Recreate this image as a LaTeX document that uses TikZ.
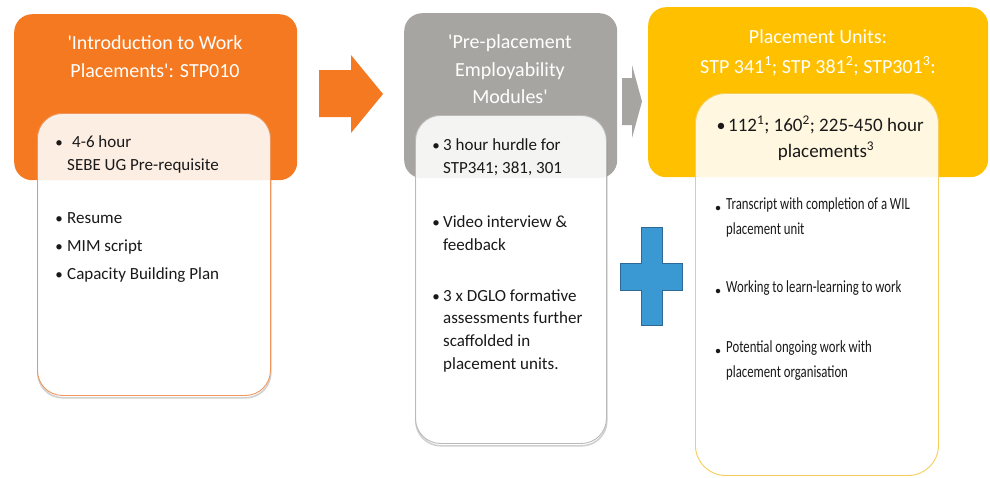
\documentclass[tikz,border=0pt]{standalone}
\usepackage{fontspec}
\setmainfont{Carlito}
\newfontfamily\carlplain{Carlito}
\definecolor{orng}{RGB}{244,121,32}
\definecolor{orngl}{RGB}{240,150,90}
\definecolor{gry}{RGB}{166,165,161}
\definecolor{gryl}{RGB}{185,185,185}
\definecolor{ylw}{RGB}{255,192,0}
\definecolor{ylwl}{RGB}{245,205,90}
\definecolor{blu}{RGB}{58,152,211}
\definecolor{blud}{RGB}{46,105,150}
\definecolor{txt}{RGB}{25,25,25}
\definecolor{shd}{RGB}{150,150,150}
\begin{document}
\begin{tikzpicture}[x=1pt,y=-1pt,
  outerbox/.style={rounded corners=18pt, inner sep=0pt, draw=none, anchor=north west},
  innerbox/.style={rounded corners=25pt, inner sep=0pt, fill=white, fill opacity=0.88, line width=0.9pt, anchor=north west},
  shadowbox/.style={rounded corners=25pt, inner sep=0pt, draw=shd, draw opacity=0.45, line width=1.6pt, anchor=north west},
  ttl/.style={font=\carlplain\fontsize{20}{24}\selectfont, text=white, anchor=base, inner sep=0pt},
  body/.style={font=\fontsize{17}{20}\selectfont, text=txt, anchor=base west, inner sep=0pt},
  big/.style={font=\fontsize{19}{22}\selectfont, text=txt, anchor=base west, inner sep=0pt},
  small/.style={font=\fontsize{17}{20}\selectfont, text=txt, anchor=base west, inner sep=0pt},
  bul/.style={font=\fontsize{15}{20}\selectfont, text=txt, anchor=base, inner sep=0pt},
  dot/.style={circle, fill=txt, inner sep=0pt, minimum size=4.5pt}
]
\useasboundingbox (0,0) rectangle (990,477);

% outer boxes
\node[outerbox, fill=orng, minimum width=283pt, minimum height=166pt] (b1) at (14,14) {};
\node[outerbox, fill=gry, minimum width=213pt, minimum height=165pt] (b2) at (404,13) {};
\node[outerbox, fill=ylw, minimum width=340pt, minimum height=170pt] (b3) at (648,7) {};

% block arrows
\fill[orng] (319,70) -- (351,70) -- (351,55) -- (383,94) -- (351,133) -- (351,117) -- (319,117) -- cycle;
\fill[gry] (622,78) -- (632,78) -- (632,65) -- (642,101.5) -- (632,138) -- (632,125) -- (622,125) -- cycle;

% plus sign
\filldraw[fill=blu, draw=blud, line width=0.9pt]
  (641,227) -- (662,227) -- (662,263) -- (682,263) -- (682,290) -- (662,290)
  -- (662,325) -- (641,325) -- (641,290) -- (620,290) -- (620,263) -- (641,263) -- cycle;

% inner box shadows
\node[shadowbox, minimum width=233pt, minimum height=282pt] (s1) at (37,115) {};
\node[shadowbox, minimum width=191pt, minimum height=328pt] (s2) at (415,117) {};

% inner boxes
\node[innerbox, draw=orngl, minimum width=233pt, minimum height=282pt] (i1) at (37,113) {};
\node[innerbox, draw=gryl, minimum width=191pt, minimum height=328pt] (i2) at (415,115) {};
\node[innerbox, draw=ylwl, minimum width=243pt, minimum height=382pt, rounded corners=30pt] (i3) at (695,93) {};

% box 1 texts
\node[ttl] (h1a) at (155,49) {'Introduction to Work};
\node[ttl] (h1b) at (155,77) {Placements': STP010};
\node[bul] (u1a) at (59,147) {•};
\node[body] (t1a) at (72,147) {4-6 hour};
\node[body] (t1b) at (67,170) {SEBE UG Pre-requisite};
\node[bul] (u1b) at (59,223) {•};
\node[body] (t1c) at (67,223) {Resume};
\node[bul] (u1c) at (59,251) {•};
\node[body] (t1d) at (67,251) {MIM script};
\node[bul] (u1d) at (59,279) {•};
\node[body] (t1e) at (67,279) {Capacity Building Plan};

% box 2 texts
\node[ttl] (h2a) at (510,48) {'Pre-placement};
\node[ttl] (h2b) at (510,76) {Employability};
\node[ttl] (h2c) at (510,103) {Modules'};
\node[bul] (u2a) at (436,150) {•};
\node[body] (t2a) at (443,150) {3 hour hurdle for};
\node[body] (t2b) at (443,173) {STP341; 381, 301};
\node[bul] (u2b) at (436,227) {•};
\node[body] (t2c) at (443,227) {Video interview \&};
\node[body] (t2d) at (443,250) {feedback};
\node[bul] (u2c) at (436,301) {•};
\node[body] (t2e) at (443,301) {3 x DGLO formative};
\node[body] (t2f) at (443,323) {assessments further};
\node[body] (t2g) at (443,346) {scaffolded in};
\node[body] (t2h) at (443,369) {placement units.};

% box 3 texts
\node[ttl] (h3a) at (818,43) {Placement Units:};
\node[ttl] (h3b) at (818,73) {STP 341\textsuperscript{1}; STP 381\textsuperscript{2}; STP301\textsuperscript{3}:};
\node[bul, font=\fontsize{18}{22}\selectfont] (u3a) at (721,131) {•};
\node[big] (t3a) at (728,131) {112\textsuperscript{1}; 160\textsuperscript{2}; 225-450 hour};
\node[big, anchor=base] (t3b) at (826,157) {placements\textsuperscript{3}};
\node[dot] (d3a) at (718,208) {};
\node[small] (t3c) at (726,209) {\scalebox{0.75}[1]{Transcript with completion of a WIL}};
\node[small] (t3d) at (726,234) {\scalebox{0.75}[1]{placement unit}};
\node[dot] (d3b) at (718,291) {};
\node[small] (t3e) at (726,292) {\scalebox{0.75}[1]{Working to learn-learning to work}};
\node[dot] (d3c) at (718,351) {};
\node[small] (t3f) at (726,352) {\scalebox{0.75}[1]{Potential ongoing work with}};
\node[small] (t3g) at (726,377) {\scalebox{0.75}[1]{placement organisation}};
\end{tikzpicture}
\end{document}
